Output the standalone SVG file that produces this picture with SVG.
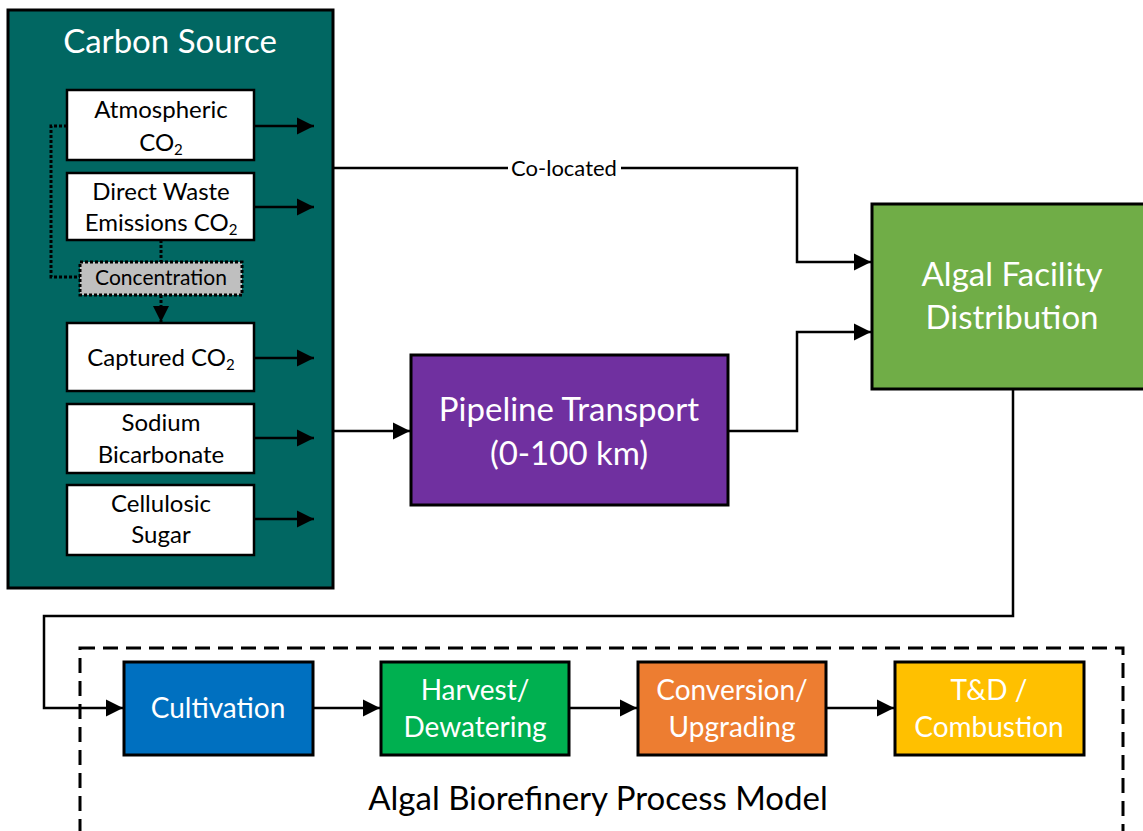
<svg xmlns="http://www.w3.org/2000/svg" width="1143" height="831" viewBox="0 0 1143 831">
<style>
text{font-family:Lato,"Open Sans","Liberation Sans",sans-serif;text-anchor:middle}
.w{fill:#fff}
.k{fill:#000}
.box{stroke:#000;stroke-width:3}
.sub{fill:#fff;stroke:#000;stroke-width:2.5}
.ln{fill:none;stroke:#000;stroke-width:2.5}
.dot{fill:none;stroke:#000;stroke-width:3;stroke-dasharray:3 2}
.s21{font-size:24px}
.s28{font-size:33px}
.s24{font-size:28px}
.sb{font-size:15px}
</style>
<defs>
<marker id="ah" viewBox="0 0 10 10" refX="10" refY="5" markerWidth="7" markerHeight="7" markerUnits="strokeWidth" orient="auto">
<path d="M0,0 L10,5 L0,10 z" fill="#000"/>
</marker>
<marker id="ahs" viewBox="0 0 10 10" refX="10" refY="5" markerWidth="5.5" markerHeight="5.5" markerUnits="strokeWidth" orient="auto">
<path d="M0,0 L10,5 L0,10 z" fill="#000"/>
</marker>
</defs>

<g id="process-model">
<rect x="80" y="648" width="1043" height="200" fill="none" stroke="#000" stroke-width="3" stroke-dasharray="15 8"/>
<text x="598" y="810" class="k s28">Algal Biorefinery Process Model</text>
</g>

<g id="carbon-source">
<rect x="8" y="10" width="325" height="578" fill="#016762" class="box"/>
<text x="170" y="53" class="w" font-size="33">Carbon Source</text>
</g>

<g id="atmospheric">
<rect x="67" y="90" width="187" height="70" class="sub"/>
<text x="161" y="118" class="k s21">Atmospheric</text>
<text x="161" y="151" class="k s21">CO<tspan class="sb" dy="4">2</tspan></text>
</g>

<g id="direct-waste">
<rect x="67" y="173" width="187" height="67" class="sub"/>
<text x="161" y="200" class="k s21">Direct Waste</text>
<text x="161" y="231" class="k s21">Emissions CO<tspan class="sb" dy="4">2</tspan></text>
</g>

<g id="concentration">
<rect x="80" y="262" width="162" height="33" fill="#bfbfbf" stroke="#000" stroke-width="3" stroke-dasharray="3 2"/>
<text x="161" y="285" class="k" font-size="21">Concentration</text>
</g>

<g id="captured">
<rect x="67" y="323" width="187" height="68" class="sub"/>
<text x="161" y="366" class="k s21">Captured CO<tspan class="sb" dy="4">2</tspan></text>
</g>

<g id="sodium">
<rect x="67" y="404" width="187" height="69" class="sub"/>
<text x="161" y="431" class="k s21">Sodium</text>
<text x="161" y="463" class="k s21">Bicarbonate</text>
</g>

<g id="cellulosic">
<rect x="67" y="485" width="187" height="70" class="sub"/>
<text x="161" y="512" class="k s21">Cellulosic</text>
<text x="161" y="543" class="k s21">Sugar</text>
</g>

<g id="pipeline">
<rect x="411" y="355" width="317" height="150" fill="#7030A0" class="box"/>
<text x="569" y="421" class="w s28">Pipeline Transport</text>
<text x="569" y="465" class="w s28">(0-100 km)</text>
</g>

<g id="algal-facility">
<rect x="872" y="204" width="280" height="185" fill="#70AD47" class="box"/>
<text x="1012" y="286" class="w s28">Algal Facility</text>
<text x="1012" y="329" class="w s28">Distribution</text>
</g>

<g id="cultivation">
<rect x="124" y="662" width="189" height="93" fill="#0070C0" class="box"/>
<text x="218" y="718" class="w s24">Cultivation</text>
</g>
<g id="harvest">
<rect x="381" y="662" width="188" height="93" fill="#00B050" class="box"/>
<text x="475" y="700" class="w s24">Harvest/</text>
<text x="475" y="737" class="w s24">Dewatering</text>
</g>
<g id="conversion">
<rect x="638" y="662" width="188" height="93" fill="#ED7D31" class="box"/>
<text x="732" y="700" class="w s24">Conversion/</text>
<text x="732" y="737" class="w s24">Upgrading</text>
</g>
<g id="td">
<rect x="895" y="662" width="189" height="93" fill="#FFC000" class="box"/>
<text x="989" y="700" class="w s24">T&amp;D /</text>
<text x="989" y="737" class="w s24">Combustion</text>
</g>

<g id="connectors">
<line x1="254" y1="126" x2="314" y2="126" class="ln" marker-end="url(#ah)"/>
<line x1="254" y1="207" x2="314" y2="207" class="ln" marker-end="url(#ah)"/>
<line x1="254" y1="358" x2="314" y2="358" class="ln" marker-end="url(#ah)"/>
<line x1="254" y1="438" x2="314" y2="438" class="ln" marker-end="url(#ah)"/>
<line x1="254" y1="519" x2="314" y2="519" class="ln" marker-end="url(#ah)"/>
<polyline points="67,126 51,126 51,277 80,277" class="dot"/>
<line x1="161" y1="240" x2="161" y2="262" class="dot"/>
<line x1="161" y1="295" x2="161" y2="322" class="dot" marker-end="url(#ahs)"/>
<polyline points="334,168 797,168 797,262 871,262" class="ln" marker-end="url(#ah)"/>
<rect x="508" y="156" width="113" height="24" fill="#fff"/>
<text x="564" y="176" class="k" font-size="22">Co-located</text>
<line x1="334" y1="431" x2="410" y2="431" class="ln" marker-end="url(#ah)"/>
<polyline points="728,431 797,431 797,332 871,332" class="ln" marker-end="url(#ah)"/>
<polyline points="1013,389 1013,616 44,616 44,708 123,708" class="ln" marker-end="url(#ah)"/>
<line x1="313" y1="708" x2="380" y2="708" class="ln" marker-end="url(#ah)"/>
<line x1="569" y1="708" x2="637" y2="708" class="ln" marker-end="url(#ah)"/>
<line x1="826" y1="708" x2="894" y2="708" class="ln" marker-end="url(#ah)"/>
</g>
</svg>
